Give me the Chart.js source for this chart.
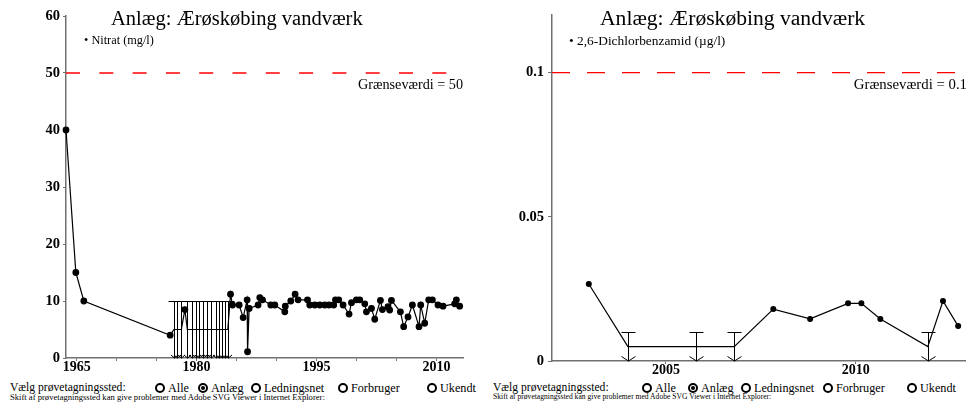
<!DOCTYPE html>
<html>
<head>
<meta charset="utf-8">
<script src="https://cdn.jsdelivr.net/npm/chart.js@4.4.0/dist/chart.umd.min.js"></script>
<style>
  body { margin: 0; width: 970px; height: 407px; background: #fff; position: relative; overflow: hidden;
         font-family: "Liberation Serif", "Times New Roman", serif; color: #000; }
  .panel { position: absolute; top: 0; width: 485px; height: 407px; }
  .panel canvas { position: absolute; left: 0; top: 0; }
  .title { position: absolute; font-size: 20.5px; line-height: 20px; white-space: nowrap; }
  .legend { position: absolute; font-size: 12.3px; line-height: 12px; white-space: nowrap; }
  .ctl { position: absolute; font-size: 12.2px; line-height: 14px; white-space: nowrap; }
  .note { position: absolute; font-size: 8px; line-height: 8px; white-space: nowrap; }
  .rad { position: absolute; width: 6px; height: 6px; border: 2.5px solid #000; border-radius: 50%; }
  .rad.on::after { content: ""; position: absolute; left: 1px; top: 1px; width: 4px; height: 4px; background: #000; border-radius: 50%; }
</style>
</head>
<body>

<div class="panel" style="left:0">
  <canvas id="nitrat" width="485" height="380"></canvas>
  <div class="title" style="left:111px;top:8px">Anlæg: Ærøskøbing vandværk</div>
  <div class="legend" style="left:84px;top:34px">• Nitrat (mg/l)</div>
</div>

<div class="panel" style="left:485px">
  <canvas id="dcb" width="485" height="380"></canvas>
  <div class="title" style="left:115px;top:8px;font-size:21.6px">Anlæg: Ærøskøbing vandværk</div>
  <div class="legend" style="left:84px;top:35px;font-size:13.4px">• 2,6-Dichlorbenzamid (µg/l)</div>
</div>

<div id="controls"></div>

<script>
// Nitrat (mg/l) - below = 1 means "under detection limit" (value is the limit)
const nitratYears = [1963.67, 1964.9, 1965.9, 1976.7, 1977.16, 1977.6, 1978.1, 1978.54, 1978.85, 1979.48,
  1979.91, 1980.29, 1980.79, 1981.29, 1981.79, 1982.41, 1982.85, 1983.23, 1983.54, 1983.91, 1984.25,
  1984.5, 1985.33, 1985.83, 1986.33, 1986.38, 1986.58, 1987.7, 1987.91, 1988.25, 1989.29, 1989.79,
  1991.04, 1991.1, 1991.79, 1992.33, 1992.7, 1993.88, 1994.16, 1994.79, 1995.41, 1996.04, 1996.58,
  1997.16, 1997.38, 1997.79, 1998.33, 1999.08, 1999.38, 2000.0, 2000.41, 2001.04, 2001.25, 2001.88,
  2002.29, 2003.0, 2003.25, 2003.95, 2004.16, 2004.38, 2005.5, 2005.91, 2006.45, 2007.0, 2007.83,
  2008.04, 2008.54, 2009.04, 2009.5, 2010.2, 2010.83, 2012.29, 2012.5, 2012.91];
const nitratValues = [40, 15, 10, 4.0, 10, 10, 10, 8.5, 10, 10,
  10, 10, 10, 10, 10, 10, 10, 10, 10, 10, 11.2,
  9.3, 9.3, 7.1, 10.2, 1.1, 8.7, 9.3, 10.6, 10.2, 9.3, 9.3,
  8.1, 9.1, 10.0, 11.2, 10.2, 10.2, 9.3, 9.3, 9.3, 9.3, 9.3,
  9.3, 10.2, 10.2, 9.3, 7.7, 9.7, 10.2, 10.2, 9.5, 8.1, 8.7,
  6.8, 10.1, 8.5, 9.0, 8.4, 10.1, 8.1, 5.5, 7.2, 9.3, 5.5,
  9.3, 6.1, 10.2, 10.2, 9.3, 9.1, 9.5, 10.2, 9.1];
const nitratBelow = [0, 0, 0, 0, 1, 1, 1, 0, 1, 1,
  1, 1, 1, 1, 1, 1, 1, 1, 1, 1, 0];
const nitratLimit = 50;
const nitratTickYears = [1965, 1970, 1975, 1980, 1985, 1990, 1995, 2000, 2005, 2010];
const nitratLabelYears = [1965, 1980, 1995, 2010];

// 2,6-Dichlorbenzamid (µg/l)
const dcbYears = [2002.97, 2004.0, 2005.8, 2006.8, 2007.83, 2008.8, 2009.8, 2010.15, 2010.65, 2011.9, 2012.3, 2012.7];
const dcbValues = [0.0267, 0.01, 0.01, 0.01, 0.018, 0.0146, 0.02, 0.02, 0.0146, 0.01, 0.0208, 0.0121];
const dcbBelow = [0, 1, 1, 1, 0, 0, 0, 0, 0, 1, 0, 0];
const dcbLimit = 0.1;
const dcbTickYears = [2005, 2010];
const dcbYTicks = [0, 0.05, 0.1];

const SERIF = '"Liberation Serif", "Times New Roman", serif';

// T-bar at the detection limit, line down to 0 and an arrow
const belowLimitPlugin = {
  id: 'belowLimit',
  afterDatasetsDraw(chart, args, opts) {
    const { ctx, scales: { x, y } } = chart;
    const y0 = y.getPixelForValue(0);
    ctx.save();
    ctx.strokeStyle = '#000';
    ctx.lineWidth = 1;
    opts.years.forEach((yr, i) => {
      if (!opts.below[i]) return;
      const px = Math.round(x.getPixelForValue(yr)) + 0.5;
      const pt = Math.round(y.getPixelForValue(opts.values[i])) + 0.5;
      ctx.beginPath();
      ctx.moveTo(px - opts.bar, pt); ctx.lineTo(px + opts.bar, pt);
      ctx.moveTo(px, pt); ctx.lineTo(px, y0);
      ctx.moveTo(px - opts.arrow, y0 - opts.arrowH); ctx.lineTo(px, y0); ctx.lineTo(px + opts.arrow, y0 - opts.arrowH);
      ctx.stroke();
    });
    ctx.restore();
  }
};

const limitLabelPlugin = {
  id: 'limitLabel',
  afterDraw(chart, args, opts) {
    const { ctx, chartArea, scales: { y } } = chart;
    ctx.save();
    ctx.font = opts.size + 'px ' + SERIF;
    ctx.fillStyle = '#000';
    ctx.textAlign = 'right';
    ctx.textBaseline = 'middle';
    ctx.fillText(opts.text, chartArea.right + opts.dx, y.getPixelForValue(opts.value) + 12);
    ctx.restore();
  }
};

function makeChart(id, cfg) {
  const pts = cfg.years.map((yr, i) => ({ x: yr, y: cfg.below[i] ? cfg.values[i] / 2 : cfg.values[i] }));
  const radii = cfg.years.map((yr, i) => cfg.below[i] ? 0 : cfg.radius);
  return new Chart(document.getElementById(id), {
    type: 'scatter',
    data: {
      datasets: [
        {
          data: pts,
          showLine: true,
          borderColor: '#000',
          borderWidth: 1.2,
          backgroundColor: '#000',
          pointRadius: radii,
          pointHoverRadius: radii,
          clip: false
        },
        {
          data: [{ x: cfg.xMin, y: cfg.limit }, { x: cfg.xMax, y: cfg.limit }],
          showLine: true,
          borderColor: '#ff0000',
          borderWidth: 1.3,
          borderDash: cfg.dash,
          pointRadius: 0
        }
      ]
    },
    options: {
      responsive: false,
      animation: false,
      layout: { padding: cfg.padding },
      plugins: {
        legend: { display: false },
        tooltip: { enabled: false },
        belowLimit: { years: cfg.years, values: cfg.values, below: cfg.below, bar: cfg.bar, arrow: cfg.arrow, arrowH: cfg.arrowH },
        limitLabel: { text: cfg.limitText, value: cfg.limit, dx: cfg.labelDx, size: cfg.labelSize }
      },
      scales: {
        x: {
          type: 'linear',
          min: cfg.xMin,
          max: cfg.xMax,
          afterFit: s => { s.height = cfg.xHeight; },
          afterBuildTicks: s => { s.ticks = cfg.xTicks.map(v => ({ value: v })); },
          border: { color: '#707070', width: 1.5 },
          grid: { drawOnChartArea: false, color: '#707070', tickLength: 3 },
          ticks: {
            padding: -2,
            color: '#000',
            maxRotation: 0,
            autoSkip: false,
            font: { family: SERIF, size: 14, weight: 'bold' },
            callback: v => cfg.xLabels.includes(v) ? String(v) : ''
          }
        },
        y: {
          min: 0,
          max: cfg.yMax,
          afterFit: s => { s.width = cfg.yWidth; },
          afterBuildTicks: s => { s.ticks = cfg.yTicks.map(v => ({ value: v })); },
          border: { color: '#707070', width: 1.5 },
          grid: { drawOnChartArea: false, color: '#707070', tickLength: cfg.yTickLen },
          ticks: {
            padding: cfg.yPad,
            color: '#000',
            font: { family: SERIF, size: 14.5, weight: 'bold' },
            callback: v => String(+v.toFixed(4))
          }
        }
      }
    },
    plugins: [belowLimitPlugin, limitLabelPlugin]
  });
}

makeChart('nitrat', {
  years: nitratYears, values: nitratValues, below: nitratYears.map((y, i) => nitratBelow[i] || 0),
  limit: nitratLimit, limitText: 'Grænseværdi = ' + nitratLimit, labelDx: 0, labelSize: 14.2,
  xMin: 1963.67, xMax: 2013.33, xTicks: nitratTickYears, xLabels: nitratLabelYears,
  yMax: 60, yTicks: [0, 10, 20, 30, 40, 50, 60],
  padding: { left: 0, top: 16, right: 22, bottom: 0 },
  xHeight: 22, yWidth: 66, yTickLen: 3, yPad: 3,
  dash: [14, 19.3], radius: 2.8, bar: 6, arrow: 3.5, arrowH: 3
});

makeChart('dcb', {
  years: dcbYears, values: dcbValues, below: dcbBelow,
  limit: dcbLimit, limitText: 'Grænseværdi = ' + dcbLimit, labelDx: 2, labelSize: 14.8,
  xMin: 2002, xMax: 2012.88, xTicks: dcbTickYears, xLabels: dcbTickYears,
  yMax: 0.12, yTicks: dcbYTicks,
  padding: { left: 0, top: 15, right: 5, bottom: 0 },
  xHeight: 19, yWidth: 67, yTickLen: 4, yPad: 4,
  dash: [18, 17], radius: 2.4, bar: 7, arrow: 7, arrowH: 4.5
});

// sampling-site selector (static, as in the picture)
const siteOptions = ['Alle', 'Anlæg', 'Ledningsnet', 'Forbruger', 'Ukendt'];
const siteSelected = 'Anlæg';
const controlPanels = [
  { x: 10, circles: [160, 203, 256, 343, 432], note: 8.6 },
  { x: 493, circles: [647, 693, 746, 828, 912], note: 7.6 }
];
const host = document.getElementById('controls');
controlPanels.forEach(p => {
  let html = `<div class="ctl" style="left:${p.x}px;top:381px;font-size:11.6px">Vælg prøvetagningssted:</div>`;
  siteOptions.forEach((name, i) => {
    const cx = p.circles[i];
    html += `<span class="rad${name === siteSelected ? ' on' : ''}" style="left:${cx - 5}px;top:383px"></span>`;
    html += `<div class="ctl" style="left:${cx + 8}px;top:381px">${name}</div>`;
  });
  html += `<div class="note" style="left:${p.x}px;top:393px;font-size:${p.note}px">Skift af prøvetagningssted kan give problemer med Adobe SVG Viewer i Internet Explorer:</div>`;
  host.insertAdjacentHTML('beforeend', html);
});
</script>
</body>
</html>
